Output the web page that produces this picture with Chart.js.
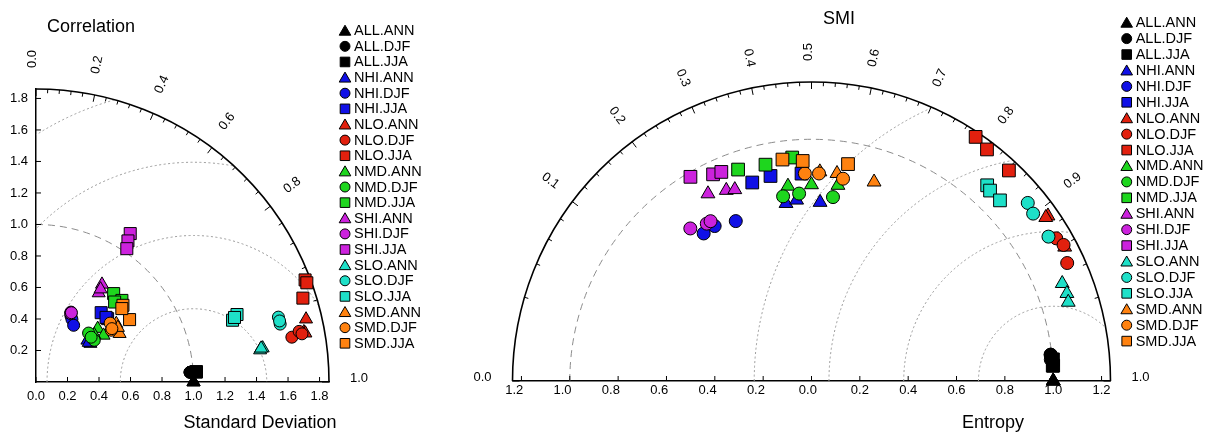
<!DOCTYPE html>
<html>
<head>
<meta charset="utf-8">
<script src="https://cdn.jsdelivr.net/npm/chart.js@4.4.1/dist/chart.umd.min.js"></script>
<style>
  html, body { margin: 0; padding: 0; background: #fff; }
  #wrap { position: relative; width: 1206px; height: 432px; }
  #sdChart { position: absolute; left: 0; top: 0; }
  #smiChart { position: absolute; left: 460px; top: 0; }
</style>
</head>
<body>
<div id="wrap">
  <canvas id="sdChart" width="460" height="432"></canvas>
  <canvas id="smiChart" width="746" height="432"></canvas>
</div>
<script>
// series, in legend order: region.season
const regions = ['ALL', 'NHI', 'NLO', 'NMD', 'SHI', 'SLO', 'SMD'];
const seasons = ['ANN', 'DJF', 'JJA'];

// left diagram: standard deviation (radius) and correlation (angle), 3 members per series
const stdDev = [
  [1.00, 1.00, 1.00], [0.98, 0.98, 0.98], [1.02, 1.02, 1.02],
  [0.420, 0.423, 0.418], [0.475, 0.459, 0.432], [0.604, 0.607, 0.605],
  [1.760, 1.730, 1.738], [1.649, 1.701, 1.716], [1.827, 1.831, 1.776],
  [0.518, 0.521, 0.476], [0.456, 0.455, 0.451], [0.747, 0.752, 0.712],
  [0.748, 0.691, 0.718], [0.496, 0.487, 0.494], [1.116, 1.069, 1.024],
  [1.455, 1.437, 1.445], [1.593, 1.593, 1.594], [1.346, 1.308, 1.325],
  [0.630, 0.613, 0.624], [0.601, 0.580, 0.589], [0.736, 0.714, 0.717]
];
const correlation = [
  [1.000, 1.000, 1.000], [0.998, 0.998, 0.998], [0.998, 0.998, 0.998],
  [0.777, 0.817, 0.801], [0.467, 0.497, 0.553], [0.685, 0.749, 0.735],
  [0.974, 0.983, 0.984], [0.985, 0.982, 0.984], [0.935, 0.939, 0.954],
  [0.756, 0.823, 0.777], [0.732, 0.813, 0.776], [0.660, 0.725, 0.701],
  [0.560, 0.576, 0.571], [0.447, 0.452, 0.455], [0.536, 0.546, 0.563],
  [0.989, 0.990, 0.989], [0.966, 0.973, 0.970], [0.948, 0.954, 0.951],
  [0.809, 0.866, 0.833], [0.783, 0.824, 0.818], [0.750, 0.832, 0.760]
];

// right diagram: entropy (radius) and SMI (angle)
const entropy = [
  [1.000, 1.000, 1.000], [0.996, 0.994, 0.995], [1.003, 1.002, 1.000],
  [0.742, 0.751, 0.740], [0.756, 0.756, 0.732], [0.857, 0.865, 0.859],
  [1.193, 1.182, 1.185], [1.172, 1.185, 1.165], [1.217, 1.202, 1.194],
  [0.812, 0.812, 0.817], [0.773, 0.777, 0.766], [0.926, 0.915, 0.928],
  [0.885, 0.864, 0.853], [0.806, 0.782, 0.782], [0.982, 0.947, 0.942],
  [1.113, 1.117, 1.111], [1.159, 1.149, 1.148], [1.088, 1.080, 1.080],
  [0.866, 0.865, 0.863], [0.859, 0.859, 0.847], [0.924, 0.911, 0.910]
];
const smi = [
  [1.000, 1.000, 1.000], [0.997, 0.998, 0.997], [0.998, 0.999, 0.999],
  [0.429, 0.459, 0.524], [0.205, 0.235, 0.286], [0.357, 0.402, 0.476],
  [0.910, 0.910, 0.942], [0.932, 0.940, 0.954], [0.779, 0.802, 0.842],
  [0.440, 0.500, 0.567], [0.424, 0.467, 0.558], [0.336, 0.396, 0.457],
  [0.258, 0.296, 0.314], [0.189, 0.223, 0.233], [0.245, 0.285, 0.302],
  [0.966, 0.973, 0.978], [0.886, 0.899, 0.927], [0.834, 0.842, 0.861],
  [0.520, 0.561, 0.650], [0.484, 0.518, 0.577], [0.435, 0.480, 0.583]
];

// tick labels
const sdXTicks = [0, 0.2, 0.4, 0.6, 0.8, 1.0, 1.2, 1.4, 1.6, 1.8];
const sdYTicks = [0.2, 0.4, 0.6, 0.8, 1.0, 1.2, 1.4, 1.6, 1.8];
const corrLabels = [0.0, 0.2, 0.4, 0.6, 0.8, 1.0];
const entropyTicks = [-1.2, -1.0, -0.8, -0.6, -0.4, -0.2, 0, 0.2, 0.4, 0.6, 0.8, 1.0, 1.2];
const smiLabels = [0.0, 0.1, 0.2, 0.3, 0.4, 0.5, 0.6, 0.7, 0.8, 0.9, 1.0];

const SD_MAX = 1.86;
const ENT_MAX = 1.237;

const regionColors = ['#000000', '#1010e6', '#e2200e', '#1ed61e', '#cc22dd', '#1ee0c8', '#ff8210'];
const seasonShapes = ['triangle', 'circle', 'rect'];
const FONT = '"Liberation Sans", Arial, Helvetica, sans-serif';

const seriesNames = [];
regions.forEach(r => seasons.forEach(s => seriesNames.push(r + '.' + s)));

// polar -> cartesian on the diagram
function taylorXY(sd, r) {
    return { x: sd * r, y: sd * Math.sqrt(Math.max(0, 1 - r * r)) };
}
function smiXY(e, s) {
    const c = 2 * s - 1;
    return { x: e * c, y: e * Math.sqrt(Math.max(0, 1 - c * c)) };
}

function makeDatasets(radii, angles, toXY, sizes) {
    return seriesNames.map((name, i) => {
        const shape = seasonShapes[i % 3];
        return {
            label: name,
            data: radii[i].map((v, j) => toXY(v, angles[i][j])),
            pointStyle: shape,
            pointRadius: sizes[shape],
            backgroundColor: regionColors[Math.floor(i / 3)],
            borderColor: '#000',
            borderWidth: 1,
            order: seriesNames.length - i,
            clip: false,
            showLine: false
        };
    });
}

function legendMarker(ctx, shape, x, y, fill) {
    ctx.beginPath();
    if (shape === 'triangle') {
        ctx.moveTo(x, y - 5.5);
        ctx.lineTo(x + 5.8, y + 4.5);
        ctx.lineTo(x - 5.8, y + 4.5);
        ctx.closePath();
    } else if (shape === 'circle') {
        ctx.arc(x, y, 5, 0, 2 * Math.PI);
    } else {
        ctx.rect(x - 4.8, y - 4.8, 9.6, 9.6);
    }
    ctx.fillStyle = fill;
    ctx.fill();
    ctx.lineWidth = 1;
    ctx.strokeStyle = '#000';
    ctx.stroke();
}

// arcs, angular ticks and labels, legend, titles
function diagramPlugin(o) {
    return {
        id: 'diagram',
        beforeDatasetsDraw(chart) {
            const { ctx, scales: { x, y } } = chart;
            const cx = x.getPixelForValue(0), cy = y.getPixelForValue(0);
            const ux = x.getPixelForValue(1) - cx, uy = cy - y.getPixelForValue(1);
            const R = o.rMax;
            ctx.save();
            // clip to the diagram
            ctx.beginPath();
            ctx.moveTo(cx, cy);
            ctx.ellipse(cx, cy, R * ux, R * uy, 0, -o.phiMax, 0);
            ctx.closePath();
            ctx.clip();
            ctx.lineWidth = 1;
            // reference radius
            ctx.setLineDash([7, 5]);
            ctx.strokeStyle = '#8c8c8c';
            ctx.beginPath();
            ctx.ellipse(cx, cy, ux, uy, 0, -o.phiMax, 0);
            ctx.stroke();
            // distance arcs around the reference point
            ctx.setLineDash([2, 2.5]);
            ctx.strokeStyle = '#9a9a9a';
            const rx = x.getPixelForValue(1);
            for (let k = 1; k <= 4; k++) {
                const rr = R / 4 * k;
                ctx.beginPath();
                ctx.ellipse(rx, cy, rr * ux, rr * uy, 0, -Math.PI, 0);
                ctx.stroke();
            }
            ctx.restore();

            ctx.save();
            ctx.strokeStyle = '#000';
            ctx.lineWidth = 1.6;
            ctx.beginPath();
            ctx.ellipse(cx, cy, R * ux, R * uy, 0, -o.phiMax, 0);
            ctx.stroke();
            // angular ticks
            ctx.lineWidth = 1;
            for (let k = 0; k <= o.tickCount; k++) {
                const phi = o.angleOf(k * o.tickStep);
                const len = k % o.majorEvery === 0 ? 7 : 4;
                const c = Math.cos(phi), s = Math.sin(phi);
                ctx.beginPath();
                ctx.moveTo(cx + R * ux * c, cy - R * uy * s);
                ctx.lineTo(cx + (R * ux - len) * c, cy - (R * uy - len) * s);
                ctx.stroke();
            }
            // axis ticks, pointing inwards
            x.ticks.forEach(t => {
                const px = x.getPixelForValue(t.value);
                ctx.beginPath();
                ctx.moveTo(px, cy);
                ctx.lineTo(px, cy - 5);
                ctx.stroke();
            });
            if (o.yTicks) {
                o.yTicks.forEach(v => {
                    const py = y.getPixelForValue(v);
                    ctx.beginPath();
                    ctx.moveTo(cx, py);
                    ctx.lineTo(cx + 5, py);
                    ctx.stroke();
                });
            }
            // angular labels, written along the radius
            ctx.fillStyle = '#000';
            ctx.font = '13px ' + FONT;
            ctx.textAlign = 'center';
            ctx.textBaseline = 'alphabetic';
            o.labels.forEach(v => {
                const phi = o.angleOf(v);
                const rp = R * ux + 30;
                ctx.save();
                ctx.translate(cx + rp * Math.cos(phi), cy - rp * Math.sin(phi));
                ctx.rotate(phi > Math.PI / 2 + 1e-6 ? Math.PI - phi : -phi);
                ctx.fillText(v.toFixed(1), 0, 0);
                ctx.restore();
            });
            ctx.restore();
        },
        afterDraw(chart) {
            const ctx = chart.ctx;
            ctx.save();
            ctx.font = '14.5px ' + FONT;
            ctx.textAlign = 'left';
            ctx.textBaseline = 'middle';
            chart.data.datasets.forEach((ds, i) => {
                const ly = o.legendY + i * o.legendStep;
                legendMarker(ctx, ds.pointStyle, o.legendX, ly, ds.backgroundColor);
                ctx.fillStyle = '#000';
                ctx.fillText(ds.label, o.legendX + 9, ly + 0.5);
            });
            ctx.font = '18px ' + FONT;
            ctx.textAlign = 'center';
            ctx.fillText(o.title, o.titleX, o.titleY);
            ctx.fillText(o.xTitle, o.xTitleX, o.xTitleY);
            ctx.restore();
        }
    };
}

function axisTicks(fmt, pad) {
    return {
        font: { family: FONT, size: 13 },
        color: '#000',
        padding: pad,
        maxRotation: 0,
        autoSkip: false,
        callback: fmt
    };
}

// left: Taylor diagram (standard deviation / correlation)
new Chart(document.getElementById('sdChart'), {
    type: 'scatter',
    data: { datasets: makeDatasets(stdDev, correlation, taylorXY, { circle: 6, rect: 8.5, triangle: 7.5 }) },
    options: {
        responsive: false,
        animation: false,
        events: [],
        layout: { padding: { left: 0, top: 89, right: 460 - 329, bottom: 0 } },
        plugins: { legend: { display: false }, tooltip: { enabled: false } },
        scales: {
            x: {
                type: 'linear', min: 0, max: SD_MAX,
                afterBuildTicks: s => { s.ticks = sdXTicks.map(v => ({ value: v })); },
                afterFit: s => { s.height = 432 - 382; },
                grid: { display: false, drawTicks: false },
                border: { color: '#000', width: 1.5 },
                ticks: axisTicks(v => v.toFixed(1), 7)
            },
            y: {
                type: 'linear', min: 0, max: SD_MAX,
                afterBuildTicks: s => { s.ticks = sdYTicks.map(v => ({ value: v })); },
                afterFit: s => { s.width = 36; },
                grid: { display: false, drawTicks: false },
                border: { color: '#000', width: 1.5 },
                ticks: axisTicks(v => v.toFixed(1), 8)
            }
        }
    },
    plugins: [diagramPlugin({
        rMax: SD_MAX, phiMax: Math.PI / 2,
        angleOf: r => Math.acos(Math.min(1, Math.max(-1, r))),
        tickStep: 0.04, tickCount: 25, majorEvery: 5,
        labels: corrLabels, yTicks: sdYTicks,
        legendX: 345, legendY: 30.7, legendStep: 15.63,
        title: 'Correlation', titleX: 91, titleY: 27,
        xTitle: 'Standard Deviation', xTitleX: 260, xTitleY: 423
    })]
});

// right: entropy / SMI diagram
new Chart(document.getElementById('smiChart'), {
    type: 'scatter',
    data: { datasets: makeDatasets(entropy, smi, smiXY, { circle: 6.5, rect: 9, triangle: 8 }) },
    options: {
        responsive: false,
        animation: false,
        events: [],
        layout: { padding: { left: 52.5, top: 82, right: 746 - 650.5, bottom: 0 } },
        plugins: { legend: { display: false }, tooltip: { enabled: false } },
        scales: {
            x: {
                type: 'linear', min: -ENT_MAX, max: ENT_MAX,
                afterBuildTicks: s => { s.ticks = entropyTicks.map(v => ({ value: v })); },
                afterFit: s => { s.height = 432 - 381; },
                grid: { display: false, drawTicks: false },
                border: { color: '#000', width: 1.5 },
                ticks: axisTicks(v => {
                    const t = Math.abs(v).toFixed(1);
                    if (v < -1e-9) return t + '\u2007\u2007';
                    if (Math.abs(v) < 1e-9) return t + '\u2007';
                    return t;
                }, 2)
            },
            y: {
                type: 'linear', min: 0, max: ENT_MAX, display: false
            }
        }
    },
    plugins: [diagramPlugin({
        rMax: ENT_MAX, phiMax: Math.PI,
        angleOf: s => Math.acos(Math.min(1, Math.max(-1, 2 * s - 1))),
        tickStep: 0.02, tickCount: 50, majorEvery: 5,
        labels: smiLabels,
        legendX: 666.7, legendY: 22.7, legendStep: 15.92,
        title: 'SMI', titleX: 379, titleY: 19,
        xTitle: 'Entropy', xTitleX: 533, xTitleY: 423
    })]
});
</script>
</body>
</html>
